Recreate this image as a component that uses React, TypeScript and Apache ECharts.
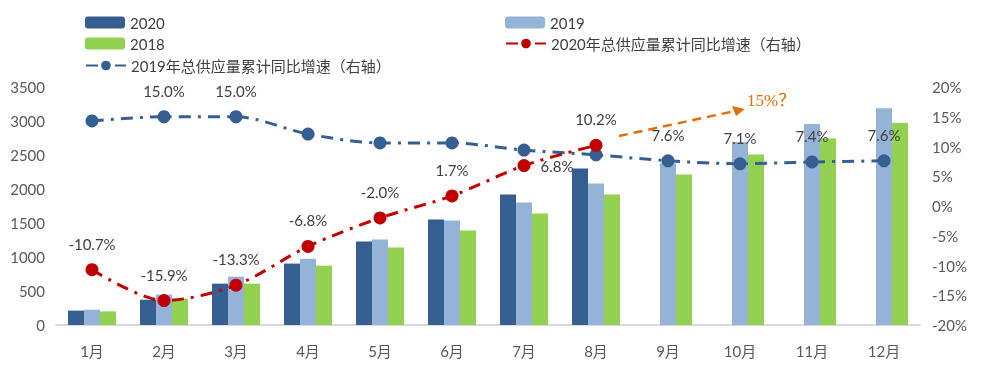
import React, { useEffect, useRef } from "react";
import * as echarts from "echarts";

const months = ["1月", "2月", "3月", "4月", "5月", "6月", "7月", "8月", "9月", "10月", "11月", "12月"];
const supply2020 = [211, 372, 608, 903, 1227, 1551, 1919, 2302, null, null, null, null];
const supply2019 = [225, 446, 711, 976, 1256, 1536, 1801, 2081, 2380, 2690, 2955, 3186];
const supply2018 = [200, 387, 608, 873, 1138, 1389, 1640, 1919, 2214, 2508, 2744, 2969];
const growth2020 = [-10.7, -15.9, -13.3, -6.8, -2.0, 1.7, 6.8, 10.2, null, null, null, null];
const growth2019 = [14.3, 15.0, 15.0, 12.1, 10.6, 10.6, 9.4, 8.6, 7.6, 7.1, 7.4, 7.6];
const leftTicks = [0, 500, 1000, 1500, 2000, 2500, 3000, 3500];
const rightTicks = [-20, -15, -10, -5, 0, 5, 10, 15, 20];

const C2020 = "#365F91";
const C2019 = "#95B3D7";
const C2018 = "#92D050";
const CRED = "#C00000";
const CORANGE = "#E46C0A";
const FONT = "Lato, 'Noto Sans CJK SC', sans-serif";

const N_BAR20 = "2020";
const N_BAR19 = "2019";
const N_BAR18 = "2018";
const N_L20 = "2020年总供应量累计同比增速（右轴）";
const N_L19 = "2019年总供应量累计同比增速（右轴）";

export default function App() {
  const ref = useRef<HTMLDivElement>(null);
  useEffect(() => {
    if (!ref.current) return;
    const chart = echarts.init(ref.current, undefined, { renderer: "svg" });

    const labelStyle = { color: "#404040", fontSize: 15, fontFamily: FONT };
    const fmt = (v: number) => v.toFixed(1) + "%";

    const g2020 = growth2020.map((v, i) => {
      if (v === null) return null;
      const lab: any = { show: true, ...labelStyle, formatter: () => fmt(v) };
      if (i === 6) {
        lab.position = "right";
        lab.distance = 10;
      } else {
        lab.position = "top";
        lab.distance = 12;
      }
      return { value: v, label: lab };
    });
    const g2019 = growth2019.map((v, i) => {
      const show = i === 1 || i === 2 || i >= 8;
      return {
        value: v,
        label: {
          show,
          ...labelStyle,
          position: "top",
          distance: 12,
          formatter: () => fmt(v),
        },
      };
    });

    const legendBase = {
      itemWidth: 40,
      itemHeight: 12,
      textStyle: { color: "#404040", fontSize: 15, fontFamily: FONT },
      selectedMode: false,
    };

    const option: any = {
      animation: false,
      grid: { left: 56, right: 65, top: 87, bottom: 42 },
      legend: [
        { ...legendBase, data: [N_BAR20], left: 80, top: 10 },
        { ...legendBase, data: [N_BAR18], left: 80, top: 31 },
        { ...legendBase, data: [N_L19], left: 80, top: 53 },
        { ...legendBase, data: [N_BAR19], left: 500, top: 10 },
        { ...legendBase, data: [N_L20], left: 500, top: 31 },
      ],
      xAxis: {
        type: "category",
        data: months,
        axisLine: { lineStyle: { color: "#D9D9D9", width: 2 } },
        axisTick: { show: false },
        axisLabel: { color: "#595959", fontSize: 15, fontFamily: FONT, margin: 18 },
      },
      yAxis: [
        {
          type: "value",
          min: leftTicks[0],
          max: leftTicks[leftTicks.length - 1],
          interval: 500,
          splitLine: { show: false },
          axisLine: { show: false },
          axisTick: { show: false },
          axisLabel: {
            color: "#595959",
            fontSize: 15,
            fontFamily: FONT,
            margin: 11,
            formatter: (v: number) => String(v),
          },
        },
        {
          type: "value",
          min: rightTicks[0],
          max: rightTicks[rightTicks.length - 1],
          interval: 5,
          splitLine: { show: false },
          axisLine: { show: false },
          axisTick: { show: false },
          axisLabel: {
            color: "#595959",
            fontSize: 15,
            fontFamily: FONT,
            margin: 12,
            formatter: (v: number) => v + "%",
          },
        },
      ],
      series: [
        { name: N_BAR20, type: "bar", data: supply2020, barWidth: 16, barGap: "0%", itemStyle: { color: C2020 } },
        { name: N_BAR19, type: "bar", data: supply2019, barWidth: 16, barGap: "0%", itemStyle: { color: C2019 } },
        { name: N_BAR18, type: "bar", data: supply2018, barWidth: 16, barGap: "0%", itemStyle: { color: C2018 } },
        {
          name: N_L19,
          type: "line",
          yAxisIndex: 1,
          data: g2019,
          symbol: "circle",
          symbolSize: 13,
          smooth: 0.3,
          itemStyle: { color: C2020 },
          lineStyle: { color: C2020, width: 3, type: [12, 7, 3, 7] },
          z: 5,
        },
        {
          name: N_L20,
          type: "line",
          yAxisIndex: 1,
          data: g2020,
          symbol: "circle",
          symbolSize: 13,
          smooth: 0.3,
          itemStyle: { color: CRED },
          lineStyle: { color: CRED, width: 3, type: [12, 7, 3, 7] },
          z: 6,
        },
      ],
      graphic: [
        {
          type: "line",
          shape: { x1: 619, y1: 136, x2: 735, y2: 111 },
          style: { stroke: CORANGE, lineWidth: 2.5, lineDash: [9, 6] },
          z: 10,
        },
        {
          type: "polygon",
          shape: { points: [[745, 109], [732, 106], [736, 116]] },
          style: { fill: CORANGE },
          z: 10,
        },
        {
          type: "text",
          x: 747,
          y: 92,
          style: {
            text: "15%？",
            fill: CORANGE,
            fontSize: 17,
            fontFamily: "'Liberation Serif', 'Noto Sans CJK SC', serif",
          },
          z: 10,
        },
      ],
    };
    chart.setOption(option);
    return () => chart.dispose();
  }, []);
  return <div ref={ref} style={{ position: "fixed", left: 0, top: 0, width: 985, height: 367 }} />;
}
